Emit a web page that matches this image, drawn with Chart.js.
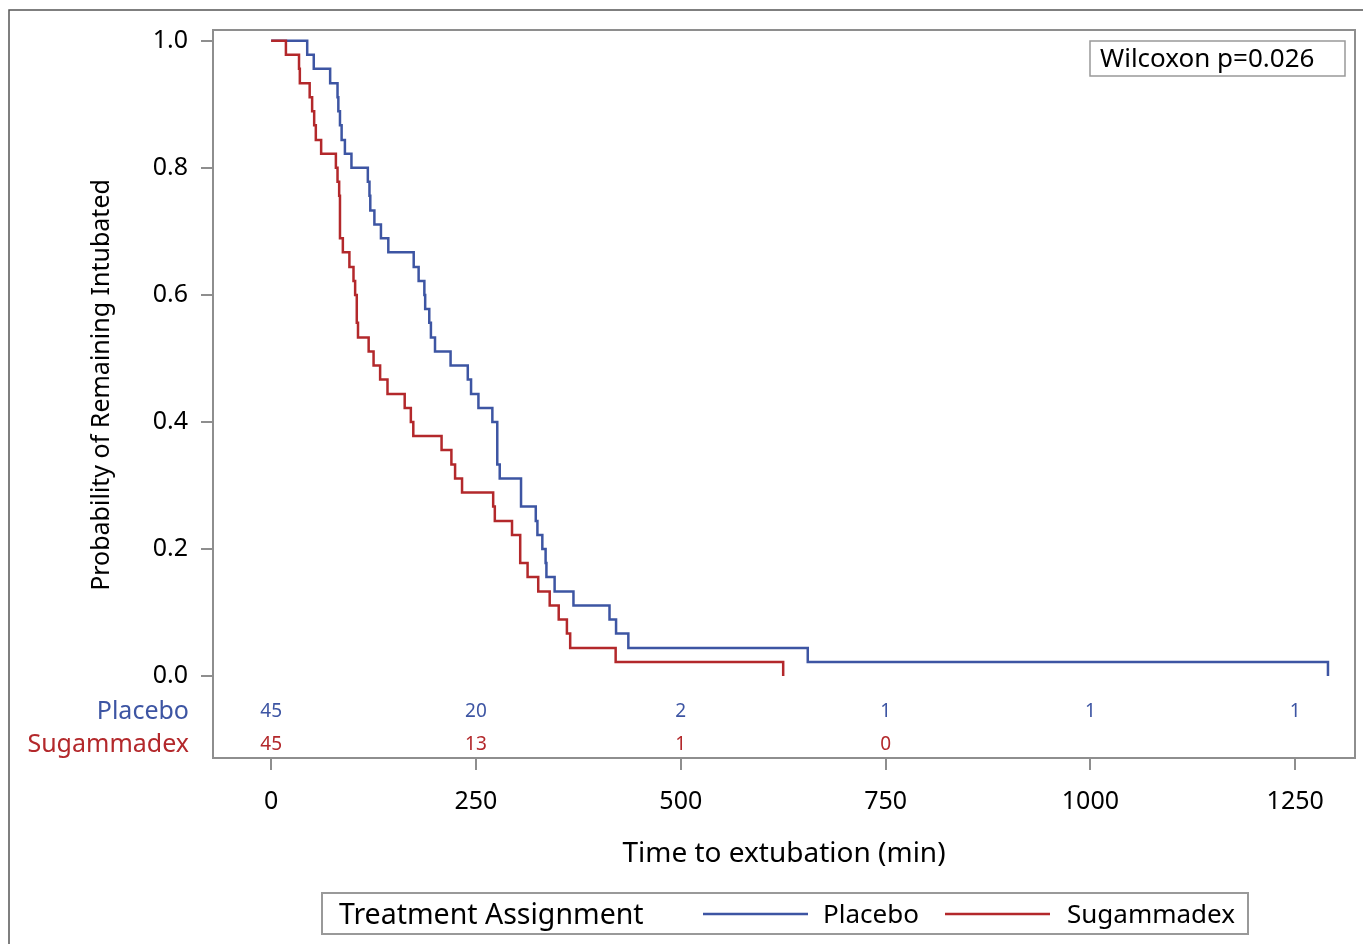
<!DOCTYPE html>
<html>
<head>
<meta charset="utf-8">
<title>Time to extubation</title>
<script src="https://cdn.jsdelivr.net/npm/chart.js@4"></script>
<style>
  html, body { margin: 0; padding: 0; background: #fff; }
  #wrap { width: 1363px; height: 944px; position: relative; }
</style>
</head>
<body>
<div id="wrap"><canvas id="kmChart" width="1363" height="944"></canvas></div>
<script>
// Kaplan-Meier step data (time in min, probability)
const placeboTime = [0, 44, 52, 72, 81, 82, 84, 86, 90, 98, 118, 120, 121, 126, 134, 143, 174, 180, 187, 188, 193, 195, 200, 219, 240, 244, 253, 270, 276, 279, 305, 323, 325, 331, 335, 336, 346, 369, 413, 421, 436, 655, 1290];
const placeboSurv = [1, 0.978, 0.956, 0.933, 0.911, 0.889, 0.867, 0.844, 0.822, 0.800, 0.778, 0.756, 0.733, 0.711, 0.689, 0.667, 0.644, 0.622, 0.600, 0.578, 0.556, 0.533, 0.511, 0.489, 0.467, 0.444, 0.422, 0.400, 0.333, 0.311, 0.267, 0.244, 0.222, 0.200, 0.178, 0.156, 0.133, 0.111, 0.089, 0.067, 0.044, 0.022, 0];

const sugTime = [0, 18, 34, 35, 47, 50, 52.5, 54.5, 61, 79, 81, 83, 84, 87.5, 95.5, 100.5, 102.5, 104.5, 106, 119, 125, 133, 142, 163, 170.5, 173.5, 208, 220, 224.5, 233, 271, 273, 294, 304, 313, 326, 340, 351, 361, 365, 420.5, 625];
const sugSurv = [1, 0.978, 0.956, 0.933, 0.911, 0.889, 0.867, 0.844, 0.822, 0.800, 0.778, 0.756, 0.689, 0.667, 0.644, 0.622, 0.600, 0.556, 0.533, 0.511, 0.489, 0.467, 0.444, 0.422, 0.400, 0.378, 0.356, 0.333, 0.311, 0.289, 0.267, 0.244, 0.222, 0.178, 0.156, 0.133, 0.111, 0.089, 0.067, 0.044, 0.022, 0];

// number at risk table
const riskTimes = [0, 250, 500, 750, 1000, 1250];
const placeboRisk = [45, 20, 2, 1, 1, 1];
const sugRisk = [45, 13, 1, 0];

const xTicks = [0, 250, 500, 750, 1000, 1250];
const yTicks = [0, 0.2, 0.4, 0.6, 0.8, 1.0];

const blue = "#3d55a3";
const red = "#b3282b";
const frameGray = "#8e8e8e";
const font = "'Noto Sans', 'DejaVu Sans', sans-serif";

function toPoints(xs, ys) {
  return xs.map((x, i) => ({ x: x, y: ys[i] }));
}

// extra drawing: frames, at-risk rows, axis title, p-value box, legend
const decor = {
  id: "decor",
  afterDraw(chart) {
    const ctx = chart.ctx;
    const area = chart.chartArea;
    const xs = chart.scales.x;
    ctx.save();

    // outer figure frame
    ctx.strokeStyle = "#555";
    ctx.lineWidth = 1.5;
    ctx.beginPath();
    ctx.moveTo(9, 944);
    ctx.lineTo(9, 10);
    ctx.lineTo(1363, 10);
    ctx.stroke();

    // plot frame
    ctx.strokeStyle = frameGray;
    ctx.lineWidth = 2;
    ctx.strokeRect(area.left, area.top, area.right - area.left, area.bottom - area.top);

    // y title
    ctx.fillStyle = "#000";
    ctx.font = "25px " + font;
    ctx.textAlign = "center";
    ctx.textBaseline = "middle";
    ctx.save();
    ctx.translate(102, 385);
    ctx.rotate(-Math.PI / 2);
    ctx.fillText("Probability of Remaining Intubated", 0, 0);
    ctx.restore();

    // at-risk rows
    const rowY = [712, 745];
    ctx.font = "25px " + font;
    ctx.textAlign = "right";
    ctx.fillStyle = blue;
    ctx.fillText("Placebo", 189, rowY[0]);
    ctx.fillStyle = red;
    ctx.fillText("Sugammadex", 189, rowY[1]);
    ctx.font = "19px " + font;
    ctx.textAlign = "center";
    ctx.fillStyle = blue;
    placeboRisk.forEach((n, i) => ctx.fillText(String(n), xs.getPixelForValue(riskTimes[i]), rowY[0]));
    ctx.fillStyle = red;
    sugRisk.forEach((n, i) => ctx.fillText(String(n), xs.getPixelForValue(riskTimes[i]), rowY[1]));

    // Wilcoxon box
    ctx.strokeStyle = "#999";
    ctx.lineWidth = 1.5;
    ctx.strokeRect(1090, 41, 255, 35);
    ctx.fillStyle = "#000";
    ctx.font = "26px " + font;
    ctx.textAlign = "left";
    ctx.fillText("Wilcoxon p=0.026", 1100, 60);

    // legend
    ctx.strokeStyle = "#999";
    ctx.lineWidth = 2;
    ctx.strokeRect(322, 893, 926, 41);
    ctx.font = "28.5px " + font;
    ctx.fillStyle = "#000";
    ctx.fillText("Treatment Assignment", 339, 916);
    ctx.font = "26px " + font;
    ctx.lineWidth = 2.5;
    ctx.strokeStyle = blue;
    ctx.beginPath(); ctx.moveTo(703, 914); ctx.lineTo(808, 914); ctx.stroke();
    ctx.fillText("Placebo", 823, 916);
    ctx.strokeStyle = red;
    ctx.beginPath(); ctx.moveTo(945, 914); ctx.lineTo(1050, 914); ctx.stroke();
    ctx.fillText("Sugammadex", 1067, 916);

    ctx.restore();
  }
};

new Chart(document.getElementById("kmChart"), {
  type: "line",
  data: {
    datasets: [
      {
        label: "Sugammadex",
        data: toPoints(sugTime, sugSurv),
        borderColor: red,
        borderWidth: 2.5,
        stepped: "before",
        pointRadius: 0,
        fill: false
      },
      {
        label: "Placebo",
        data: toPoints(placeboTime, placeboSurv),
        borderColor: blue,
        borderWidth: 2.5,
        stepped: "before",
        pointRadius: 0,
        fill: false
      }
    ]
  },
  options: {
    responsive: false,
    animation: false,
    events: [],
    layout: { padding: { left: 0, top: 30, right: 8, bottom: 0 } },
    plugins: {
      legend: { display: false },
      tooltip: { enabled: false }
    },
    scales: {
      x: {
        type: "linear",
        min: -71,
        max: 1323,
        afterFit: s => { s.height = 186; },
        afterBuildTicks: s => { s.ticks = xTicks.map(v => ({ value: v })); },
        border: { display: false },
        grid: { drawOnChartArea: false, drawTicks: true, tickLength: 12, color: frameGray, lineWidth: 2 },
        ticks: {
          color: "#000",
          padding: 17,
          maxRotation: 0,
          font: { family: font, size: 25 },
          callback: v => String(v)
        },
        title: {
          display: true,
          text: "Time to extubation (min)",
          color: "#000",
          font: { family: font, size: 28 },
          padding: { top: 0, bottom: 73 }
        }
      },
      y: {
        type: "linear",
        min: -0.129,
        max: 1.017,
        afterFit: s => { s.width = 213; },
        afterBuildTicks: s => { s.ticks = yTicks.map(v => ({ value: v })); },
        border: { display: false },
        grid: { drawOnChartArea: false, drawTicks: true, tickLength: 12, color: frameGray, lineWidth: 2 },
        ticks: {
          color: "#000",
          padding: 13,
          font: { family: font, size: 25 },
          callback: v => Number(v).toFixed(1)
        }
      }
    }
  },
  plugins: [decor]
});
</script>
</body>
</html>
